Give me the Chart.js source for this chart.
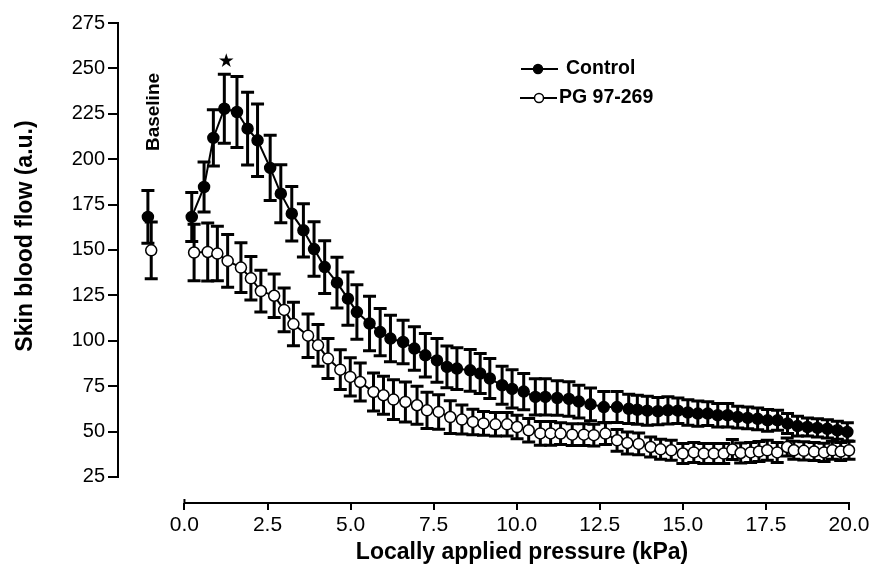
<!DOCTYPE html>
<html>
<head>
<meta charset="utf-8">
<script src="https://cdn.jsdelivr.net/npm/chart.js@4.4.1/dist/chart.umd.min.js"></script>
<style>
  html, body { margin: 0; padding: 0; background: #fff; }
</style>
</head>
<body>
<canvas id="chart" width="887" height="565"></canvas>
<script>
// values
const seriesNames = ["Control", "PG 97-269"];

const pressureControl = [0.22, 0.59, 0.87, 1.2, 1.58, 1.9, 2.2, 2.58, 2.9, 3.23,
  3.58, 3.9, 4.22, 4.59, 4.92, 5.19, 5.57, 5.89, 6.2, 6.58,
  6.92, 7.25, 7.6, 7.9, 8.2, 8.6, 8.9, 9.19, 9.56, 9.86,
  10.21, 10.56, 10.86, 11.22, 11.57, 11.87, 12.22, 12.62, 13.02, 13.37,
  13.63, 13.93, 14.25, 14.55, 14.85, 15.15, 15.45, 15.75, 16.05, 16.35,
  16.65, 16.95, 17.25, 17.55, 17.85, 18.15, 18.45, 18.75, 19.05, 19.35,
  19.65, 19.95];
const flowControl = [168.2, 184.7, 211.7, 227.8, 226, 216.8, 210.4, 195.2, 181, 170,
  160.8, 150.5, 140.6, 132, 123.2, 115.8, 109.5, 104.8, 101.2, 99.3,
  95.7, 92, 89.2, 85.6, 84.7, 83.7, 82, 79.2, 75.5, 73.5,
  72, 69.1, 69.1, 68.5, 68, 66.5, 65, 63.5, 63.5, 62.5,
  62, 61.5, 61.2, 61.7, 61.5, 60.5, 59.9, 59.9, 59, 59,
  58, 57.5, 57, 56.2, 56.2, 54.4, 53, 52.5, 52, 51.5,
  50.7, 49.8];
const sdControl = [13.5, 13.8, 15.5, 19, 19.5, 20, 20, 18, 16, 15,
  14.6, 15, 14.5, 14, 14.7, 15, 15, 13, 12.8, 12,
  12, 12, 12, 11.5, 11.5, 11.5, 11, 11, 10.5, 10.5,
  10, 10, 10, 9.5, 9.5, 9, 9, 8.5, 8.5, 8,
  8, 8, 7.5, 7.5, 7, 7, 7, 6.5, 6.5, 6.5,
  6, 6, 6, 6, 5.5, 5.5, 5.5, 5, 5, 5,
  5, 5];

const pressureDrug = [0.29, 0.7, 0.99, 1.3, 1.7, 2.0, 2.3, 2.7, 3.0, 3.28,
  3.72, 4.02, 4.32, 4.69, 4.99, 5.29, 5.69, 5.99, 6.29, 6.65,
  7.0, 7.3, 7.65, 8.0, 8.35, 8.68, 9.0, 9.36, 9.71, 10.01,
  10.36, 10.71, 11.02, 11.32, 11.67, 12.02, 12.32, 12.67, 13.02, 13.33,
  13.67, 14.03, 14.33, 14.65, 15.0, 15.33, 15.63, 15.93, 16.23, 16.49,
  16.74, 17.04, 17.29, 17.54, 17.84, 18.14, 18.34, 18.64, 18.95, 19.25,
  19.5, 19.75, 20.0];
const flowDrug = [148.6, 148.9, 148, 144, 140.3, 134.4, 127.4, 124.8, 117, 109.2,
  102.8, 97.5, 90.2, 84.1, 80.1, 77.3, 71.8, 70, 67.6, 66.3,
  64.5, 61.7, 60.8, 58, 56.6, 55.3, 54.5, 54, 54, 52.5,
  50.7, 49, 49, 48.9, 48.3, 48.3, 48, 48.9, 45.2, 43.7,
  43.2, 41.5, 40.2, 39.7, 37.9, 38.5, 37.9, 37.9, 37.9, 40.1,
  38.2, 38.5, 39, 39.7, 38.5, 41.5, 39.7, 39.4, 39, 38.5,
  39.7, 39, 39.7];
const sdDrug = [15.6, 16, 15, 14.5, 13.7, 12, 11.5, 12, 12, 12,
  12, 11.5, 11, 11, 10.5, 10.5, 10.5, 10.5, 11, 11,
  10.5, 10, 9.5, 9, 8, 7, 6.5, 6.5, 6.5, 6.5,
  6.5, 6.5, 6.5, 6, 6, 6, 6, 6, 6, 6,
  6, 5.5, 5.5, 5.5, 5.5, 5.5, 5.5, 5.5, 5.5, 5.5,
  5.5, 5.5, 5.5, 5.5, 5.5, 5, 5, 5, 5, 5,
  5, 5, 5];

// baseline measurement, plotted left of the pressure axis
const baselineX = [-1.1, -1.0];
const baselineFlow = [168.2, 149.8];
const baselineSd = [14.5, 15.6];

const xTicks = [0, 2.5, 5, 7.5, 10, 12.5, 15, 17.5, 20];
const yTicks = [25, 50, 75, 100, 125, 150, 175, 200, 225, 250, 275];

const FONT = "'Liberation Sans', Arial, Helvetica, sans-serif";

function toPoints(xs, ys) {
  return xs.map((x, i) => ({ x: x, y: ys[i] }));
}

const errorBars = {
  id: "errorBars",
  beforeDatasetsDraw(chart) {
    const ctx = chart.ctx;
    const xs = chart.scales.x;
    const ys = chart.scales.y;
    ctx.save();
    ctx.strokeStyle = "#000";
    ctx.lineWidth = 3;
    chart.data.datasets.forEach((ds) => {
      if (!ds.sd) return;
      ds.data.forEach((p, i) => {
        const px = xs.getPixelForValue(p.x);
        const top = ys.getPixelForValue(p.y + ds.sd[i]);
        const bot = ys.getPixelForValue(p.y - ds.sd[i]);
        ctx.beginPath();
        ctx.moveTo(px, top);
        ctx.lineTo(px, bot);
        ctx.moveTo(px - 6.5, top);
        ctx.lineTo(px + 6.5, top);
        ctx.moveTo(px - 6.5, bot);
        ctx.lineTo(px + 6.5, bot);
        ctx.stroke();
      });
    });
    ctx.restore();
  },
};

const decor = {
  id: "decor",
  afterDraw(chart) {
    const ctx = chart.ctx;
    const xs = chart.scales.x;
    const ys = chart.scales.y;
    const area = chart.chartArea;
    ctx.save();
    ctx.strokeStyle = "#000";
    ctx.fillStyle = "#000";
    ctx.lineWidth = 2;

    // axis lines only over the ticked range
    ctx.beginPath();
    ctx.moveTo(area.left, ys.getPixelForValue(yTicks[0]) + 1);
    ctx.lineTo(area.left, ys.getPixelForValue(yTicks[yTicks.length - 1]) - 1);
    ctx.moveTo(xs.getPixelForValue(xTicks[0]) - 1, area.bottom);
    ctx.lineTo(xs.getPixelForValue(xTicks[xTicks.length - 1]) + 1, area.bottom);
    ctx.moveTo(xs.getPixelForValue(xTicks[0]), area.bottom - 4);
    ctx.lineTo(xs.getPixelForValue(xTicks[0]), area.bottom);
    ctx.stroke();

    // axis titles
    ctx.font = "bold 23px " + FONT;
    ctx.textAlign = "center";
    ctx.textBaseline = "alphabetic";
    ctx.fillText("Locally applied pressure (kPa)", 522, 559);
    ctx.save();
    ctx.translate(32, 236);
    ctx.rotate(-Math.PI / 2);
    ctx.fillText("Skin blood flow (a.u.)", 0, 0);
    ctx.restore();

    // "Baseline" label above the baseline points
    ctx.save();
    ctx.font = "bold 19px " + FONT;
    ctx.translate(xs.getPixelForValue(baselineX[0]) + 11, 112);
    ctx.rotate(-Math.PI / 2);
    ctx.fillText("Baseline", 0, 0);
    ctx.restore();

    // star over the peak of the control curve
    let peak = 0;
    flowControl.forEach((v, i) => { if (v > flowControl[peak]) peak = i; });
    ctx.font = "19px 'DejaVu Sans', sans-serif";
    ctx.textBaseline = "middle";
    ctx.fillText("\u2605", xs.getPixelForValue(pressureControl[peak]) + 2,
      ys.getPixelForValue(flowControl[peak] + sdControl[peak]) - 12);

    // legend
    const rows = [
      { y: 69, fill: "#000", lx: 521, mx: 538, tx: 566 },
      { y: 98, fill: "#fff", lx: 520, mx: 539, tx: 559 },
    ];
    rows.forEach((r, i) => {
      ctx.lineWidth = 2;
      ctx.beginPath();
      ctx.moveTo(r.lx, r.y);
      ctx.lineTo(r.lx + 37, r.y);
      ctx.stroke();
      ctx.beginPath();
      ctx.arc(r.mx, r.y, 4.5, 0, Math.PI * 2);
      ctx.fillStyle = r.fill;
      ctx.fill();
      ctx.lineWidth = 1.5;
      ctx.stroke();
      ctx.fillStyle = "#000";
      ctx.font = "bold 19.5px " + FONT;
      ctx.textAlign = "left";
      ctx.textBaseline = "alphabetic";
      ctx.fillText(seriesNames[i], r.tx, r.y + 5);
    });
    ctx.restore();
  },
};

const lineStyle = {
  borderColor: "#000",
  borderWidth: 2,
  pointRadius: 5.5,
  pointBorderWidth: 1.5,
  pointBorderColor: "#000",
  tension: 0,
  clip: false,
};

new Chart(document.getElementById("chart"), {
  type: "scatter",
  data: {
    datasets: [
      Object.assign({
        label: seriesNames[1],
        data: toPoints(pressureDrug, flowDrug),
        sd: sdDrug,
        showLine: true,
        pointBackgroundColor: "#fff",
      }, lineStyle),
      Object.assign({
        label: seriesNames[0],
        data: toPoints(pressureControl, flowControl),
        sd: sdControl,
        showLine: true,
        pointBackgroundColor: "#000",
      }, lineStyle),
      Object.assign({}, lineStyle, {
        label: "Baseline open",
        data: [{ x: baselineX[1], y: baselineFlow[1] }],
        sd: [baselineSd[1]],
        showLine: false,
        pointBackgroundColor: "#fff",
      }),
      Object.assign({}, lineStyle, {
        label: "Baseline filled",
        data: [{ x: baselineX[0], y: baselineFlow[0] }],
        sd: [baselineSd[0]],
        showLine: false,
        pointBackgroundColor: "#000",
      }),
    ],
  },
  options: {
    responsive: false,
    animation: false,
    devicePixelRatio: 1,
    layout: { padding: { left: 0, right: 38, top: 23, bottom: 0 } },
    plugins: { legend: { display: false }, tooltip: { enabled: false } },
    scales: {
      x: {
        type: "linear",
        min: -2,
        max: 20,
        afterFit: (s) => { s.height = 62; },
        afterBuildTicks: (s) => { s.ticks = xTicks.map((v) => ({ value: v })); },
        border: { display: false },
        grid: { drawOnChartArea: false, drawTicks: true, tickLength: 7, color: "#000", lineWidth: 2 },
        ticks: {
          color: "#000",
          padding: 3,
          maxRotation: 0,
          font: { family: FONT, size: 21 },
          callback: (v) => v.toFixed(1),
        },
      },
      y: {
        type: "linear",
        min: 10.66,
        max: 275,
        afterFit: (s) => { s.width = 118; },
        afterBuildTicks: (s) => { s.ticks = yTicks.map((v) => ({ value: v })); },
        border: { display: false },
        grid: { drawOnChartArea: false, drawTicks: true, tickLength: 10, color: "#000", lineWidth: 2 },
        ticks: {
          color: "#000",
          padding: 3,
          font: { family: FONT, size: 20 },
          callback: (v) => String(v),
        },
      },
    },
  },
  plugins: [errorBars, decor],
});
</script>
</body>
</html>
